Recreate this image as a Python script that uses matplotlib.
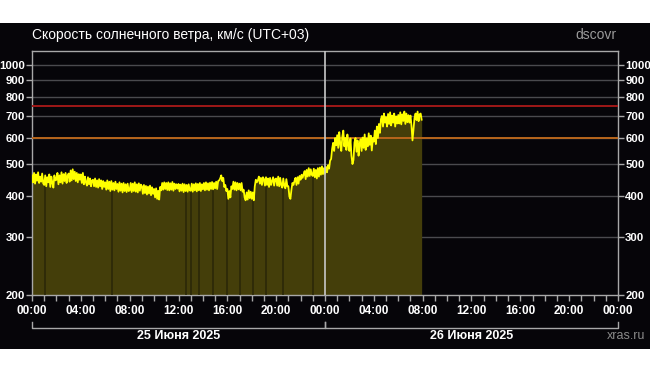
import numpy as np
import matplotlib
matplotlib.use("Agg")
import matplotlib.pyplot as plt
from matplotlib.ticker import FixedLocator, NullLocator, MultipleLocator, NullFormatter
from matplotlib.transforms import blended_transform_factory
from matplotlib.patches import Rectangle

plt.rcParams['font.family'] = ['Liberation Sans', 'DejaVu Sans']

# ---- data ----
title = "Скорость солнечного ветра, км/с (UTC+03)"
source_label = "dscovr"
site_label = "xras.ru"
step_minutes = 5  # sampling interval of the series, starting 25 June 00:00
speed = [
    462,440,470,436,465,445,472,438,458,442,468,437,   # 00
    432,462,428,456,440,465,426,458,438,424,462,446,   # 01
    448,470,434,462,440,472,436,466,444,470,438,460,   # 02
    468,442,478,446,482,450,474,444,470,440,466,448,   # 03
    465,438,470,434,458,440,430,456,434,452,428,446,   # 04
    448,428,452,426,446,424,450,428,446,420,444,426,   # 05
    440,418,446,420,442,414,444,418,438,416,442,420,   # 06
    435,412,440,415,436,410,438,414,434,411,436,414,   # 07
    416,438,411,436,414,440,412,434,410,437,415,433,   # 08
    428,406,432,408,429,404,427,407,430,402,425,406,   # 09
    420,396,422,392,415,390,426,416,438,418,440,420,   # 10
    438,417,440,416,437,418,441,415,436,420,434,421,   # 11
    435,413,433,415,436,411,434,414,432,412,434,416,   # 12
    415,436,412,434,416,437,413,435,416,438,414,434,   # 13
    419,438,416,440,418,437,416,439,420,441,419,438,   # 14
    422,442,420,444,446,452,462,444,454,426,432,414,   # 15
    420,392,414,396,428,420,442,418,440,416,438,419,   # 16
    436,416,438,412,418,396,388,410,390,416,394,412,   # 17
    392,410,388,428,448,440,446,458,436,454,432,456,   # 18
    450,430,456,432,452,426,454,432,444,456,430,450,   # 19
    452,430,458,428,454,432,424,452,430,422,450,428,   # 20
    428,398,392,418,438,432,444,454,432,456,436,460,   # 21
    448,464,454,466,476,450,480,458,486,460,482,464,   # 22
    460,484,456,480,452,486,458,488,464,492,466,486,   # 23
    468,490,472,496,484,512,518,556,580,548,600,570,   # 26 Jun 00
    612,560,625,575,548,605,632,566,600,552,615,568,   # 01
    548,598,530,500,515,582,600,545,590,530,575,595,   # 02
    548,602,560,615,552,598,566,620,572,610,550,600,   # 03
    585,632,575,650,600,662,622,685,700,650,712,668,   # 04
    695,650,710,662,718,655,702,668,712,650,698,664,   # 05
    705,664,718,660,708,676,722,662,712,670,704,668,   # 06
    702,655,590,640,690,712,680,722,675,708,712,682,   # 07
]
gap_hours = [1.04, 6.55, 12.59, 13.0, 13.68, 14.8, 15.95, 17.04, 18.1, 19.2, 20.56, 23.0]
thresholds = [600, 750]
threshold_colors = ['#b8661c', '#a01818']
y_ticks = [200, 300, 400, 500, 600, 700, 800, 900, 1000]
x_ticks = [0, 4, 8, 12, 16, 20, 24, 28, 32, 36, 40, 44, 48]
x_tick_labels = ["00:00", "04:00", "08:00", "12:00", "16:00", "20:00",
                 "00:00", "04:00", "08:00", "12:00", "16:00", "20:00", "00:00"]
day_starts = [0, 24]
day_labels = ["25 Июня 2025", "26 Июня 2025"]
midnight_hours = [24]

# ---- figure ----
W, H = 650, 372
fig = plt.figure(figsize=(W / 100, H / 100), dpi=100, facecolor='white')
fig.patches.append(Rectangle((0, 1 - 349 / H), 1, (349 - 23) / H,
                             transform=fig.transFigure, facecolor='#060509',
                             edgecolor='none', zorder=-10))

ax = fig.add_axes([32 / W, 1 - 295 / H, (618 - 32) / W, (295 - 51) / H])
ax.set_zorder(2)
ax.set_facecolor('#060509')

t = np.arange(len(speed)) * step_minutes / 60.0
v = np.array(speed, dtype=float)

ax.set_yscale('log')
ax.set_ylim(200, 1103)
ax.set_xlim(0, 48)

for yv in y_ticks[1:]:
    ax.axhline(yv, color='#4a4a4e', lw=1.0, zorder=1)

ax.fill_between(t, 200, v, color='#443e0a', lw=0, zorder=2)
gap_tops = np.interp(gap_hours, t, v)
ax.vlines(gap_hours, 200, gap_tops, color='#2b2808', lw=1.2, zorder=3)

for th, c in zip(thresholds, threshold_colors):
    ax.axhline(th, color=c, lw=1.4, zorder=4)

ax.plot(t, v, color='#ffff00', lw=1.3, zorder=5)

for m in midnight_hours:
    ax.axvline(m, color='#c8c8c8', lw=1.2, zorder=6)

for s in ax.spines.values():
    s.set_color('#a8a8a8')
    s.set_linewidth(1.0)

ax.yaxis.set_major_locator(FixedLocator(y_ticks))
ax.yaxis.set_minor_locator(NullLocator())
ax.yaxis.set_minor_formatter(NullFormatter())
ax.set_yticklabels([str(y) for y in y_ticks])
ax.set_xticks(x_ticks)
ax.set_xticklabels(x_tick_labels)
ax.xaxis.set_minor_locator(MultipleLocator(1))

ax.tick_params(axis='y', which='both', left=True, right=True, labelleft=True,
               labelright=True, direction='out', length=4, width=1,
               color='#a8a8a8', labelcolor='white', labelsize=8.2, pad=1.2)
ax.tick_params(axis='x', which='major', direction='out', length=4, width=1,
               color='#a8a8a8', labelcolor='white', labelsize=8.5, pad=3)
ax.tick_params(axis='x', which='minor', direction='out', length=4, width=1,
               color='#a8a8a8')
for lab in ax.get_xticklabels() + ax.get_yticklabels():
    lab.set_fontweight('bold')
for lab in ax.yaxis.get_ticklabels(which='major'):
    lab.set_fontweight('bold')

# day brackets
trans = blended_transform_factory(ax.transData, fig.transFigure)
y_line = 1 - 327.7 / H
y_tick_top = 1 - 321.5 / H
for d0, lab in zip(day_starts, day_labels):
    d1 = d0 + 24
    ax.plot([d0, d0, d1, d1], [y_tick_top, y_line, y_line, y_tick_top],
            transform=trans, color='#a8a8a8', lw=1.0, clip_on=False)
    ax.text((d0 + d1) / 2, 1 - 336 / H, lab, transform=trans, ha='center',
            va='center', color='white', fontsize=9, fontweight='bold')

fig.text(32 / W, 1 - 35 / H, title, ha='left', va='center', color='white',
         fontsize=10)
fig.text(617 / W, 1 - 35 / H, source_label, ha='right', va='center',
         color='#9a9a9a', fontsize=10)
fig.text(645 / W, 1 - 336 / H, site_label, ha='right', va='center',
         color='#8a8a8a', fontsize=9)

fig.savefig('out.png', dpi=100, facecolor='white')
